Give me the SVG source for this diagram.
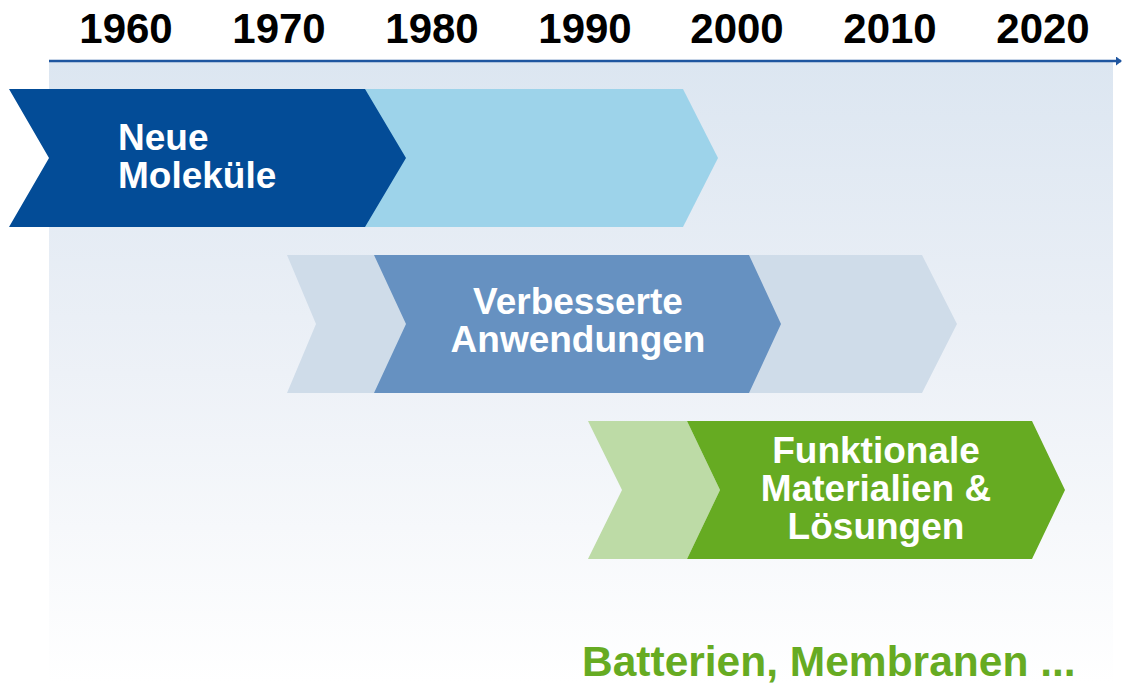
<svg xmlns="http://www.w3.org/2000/svg" width="1122" height="683" viewBox="0 0 1122 683">
<defs>
<linearGradient id="bg" x1="0" y1="0" x2="0" y2="1">
<stop offset="0" stop-color="#dce6f1"/>
<stop offset="0.5" stop-color="#edf1f7"/>
<stop offset="1" stop-color="#ffffff"/>
</linearGradient>
<marker id="arr" markerWidth="6" markerHeight="9" refX="5" refY="4.5" orient="auto" markerUnits="userSpaceOnUse">
<path d="M0,0 L6,4.5 L0,9 Z" fill="#1f56a0"/>
</marker>
<style>
.yr{font-family:"Liberation Sans",Arial,sans-serif;font-weight:bold;font-size:42px;fill:#000;text-anchor:middle}
.lbl{font-family:"Liberation Sans",Arial,sans-serif;font-weight:bold;font-size:37px;fill:#fff}
.ctr{text-anchor:middle}
.foot{font-family:"Liberation Sans",Arial,sans-serif;font-weight:bold;font-size:42.5px;fill:#66ab22}
</style>
</defs>
<rect x="49" y="62" width="1064" height="621" fill="url(#bg)"/>
<g id="connectors">
<line x1="49" y1="61" x2="1121" y2="61" stroke="#1f56a0" stroke-width="2.5" marker-end="url(#arr)"/>
</g>
<g id="years">
<text class="yr" x="126" y="43">1960</text>
<text class="yr" x="279" y="43">1970</text>
<text class="yr" x="432" y="43">1980</text>
<text class="yr" x="585" y="43">1990</text>
<text class="yr" x="737" y="43">2000</text>
<text class="yr" x="890" y="43">2010</text>
<text class="yr" x="1043" y="43">2020</text>
</g>
<g id="node-neue-molekuele">
<polygon points="365,89 683,89 718,158 683,227 365,227" fill="#9dd3ea"/>
<polygon points="9,89 365,89 406,158 365,227 9,227 49,158" fill="#034c97"/>
<text class="lbl" x="118" y="150">Neue</text>
<text class="lbl" x="118" y="188">Moleküle</text>
</g>
<g id="node-verbesserte-anwendungen">
<polygon points="287,255 922,255 957,324 922,393 287,393 316,324" fill="#cfdce9"/>
<polygon points="374,255 749,255 781,324 749,393 374,393 406,324" fill="#6691c1"/>
<text class="lbl ctr" x="578" y="314">Verbesserte</text>
<text class="lbl ctr" x="578" y="352">Anwendungen</text>
</g>
<g id="node-funktionale-materialien">
<polygon points="588,421 687,421 720,490 687,559 588,559 622,490" fill="#bddba6"/>
<polygon points="687,421 1032,421 1065,490 1032,559 687,559 720,490" fill="#66ab22"/>
<text class="lbl ctr" x="876" y="463">Funktionale</text>
<text class="lbl ctr" x="876" y="501">Materialien &amp;</text>
<text class="lbl ctr" x="876" y="539">Lösungen</text>
</g>
<g id="footer">
<text class="foot" x="582" y="676">Batterien, Membranen ...</text>
</g>
</svg>
